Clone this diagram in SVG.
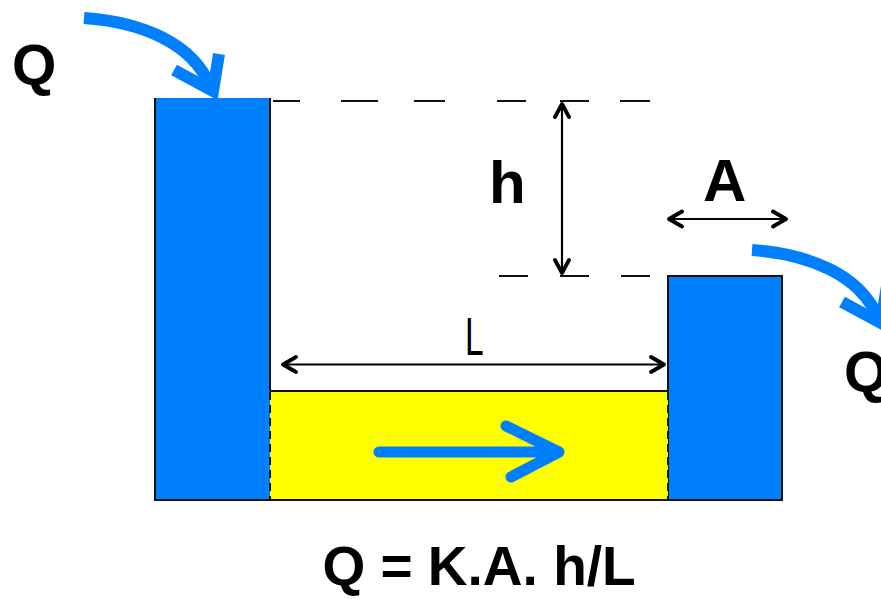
<svg xmlns="http://www.w3.org/2000/svg" width="881" height="599" viewBox="0 0 881 599">
<defs>
<style>
.blue{fill:#0080FF}
.edge{stroke:#111;stroke-width:2;fill:none}
.dash{stroke:#111;stroke-width:1.8;fill:none}
.vdash{stroke:#111;stroke-width:2;fill:none;stroke-dasharray:8 5}
.dim{stroke:#000;stroke-width:2.2;fill:none}
.head{stroke:#000;stroke-width:3.8;fill:none;stroke-linecap:round;stroke-linejoin:round}
.flow{stroke:#0080FF;stroke-width:12;fill:none}
.lbl{font-family:"Liberation Sans",Arial,sans-serif;font-weight:bold;fill:#000}
</style>
</defs>
<g id="left-column">
<rect x="155" y="98" width="115" height="402" class="blue"/>
<path d="M155,98 V500 H270" class="edge"/>
<path d="M270,98 V391" class="edge"/>
</g>
<g id="right-column">
<rect x="668" y="276" width="114" height="224" class="blue" stroke="#111" stroke-width="2"/>
</g>
<g id="aquifer">
<rect x="270" y="391" width="398" height="109" fill="#FFFF00"/>
<path d="M270,391 H668" class="edge"/>
<path d="M270,500 H668" class="edge"/>
<path d="M270,392 V500 M668,392 V500" class="vdash"/>
<path d="M379,452 H559 M506,426 L559,452 L511,477" stroke="#0080FF" stroke-width="11" fill="none" stroke-linecap="round" stroke-linejoin="round"/>
</g>
<g id="connectors">
<path d="M273,101 H300 M341,101 H378 M414,101 H445 M497,101 H526 M560,101 H589 M620,101 H650" class="dash"/>
<path d="M499,276 H528 M560,276 H589 M621,276 H650" class="dash"/>
<g id="h-arrow">
<path d="M562,104 V273" class="dim"/>
<path d="M555,117 L562,104 L569,117 M555,260 L562,273 L569,260" class="head"/>
</g>
<g id="l-arrow">
<path d="M283,364.5 H664" class="dim"/>
<path d="M296,357 L283,364.5 L296,372 M651,357 L664,364.5 L651,372" class="head"/>
</g>
<g id="a-arrow">
<path d="M669,219 H786" class="dim"/>
<path d="M682,211.5 L669,219 L682,226.5 M773,211.5 L786,219 L773,226.5" class="head"/>
</g>
<g id="inflow">
<path d="M84,18 C140,22 192,42 210,86" class="flow"/>
<path d="M174,70 L213,91 L219,54" class="flow" stroke-width="11" stroke-linejoin="miter"/>
</g>
<g id="outflow">
<path d="M752,250 C808,254 860,274 878,318" class="flow"/>
<path d="M842,302 L881,323 L887,286" class="flow" stroke-width="11" stroke-linejoin="miter"/>
</g>
</g>
<g id="labels">
<text x="12" y="85" class="lbl" font-size="57">Q</text>
<text x="844" y="392" class="lbl" font-size="57">Q</text>
<text x="489" y="203" class="lbl" font-size="60">h</text>
<text x="703" y="201" class="lbl" font-size="60">A</text>
<text x="0" y="0" font-family="Liberation Sans, Arial, sans-serif" font-size="54" fill="#000" transform="translate(465,355) scale(0.62,1)">L</text>
<text x="479" y="585" class="lbl" font-size="55" text-anchor="middle">Q = K.A. h/L</text>
</g>
</svg>
